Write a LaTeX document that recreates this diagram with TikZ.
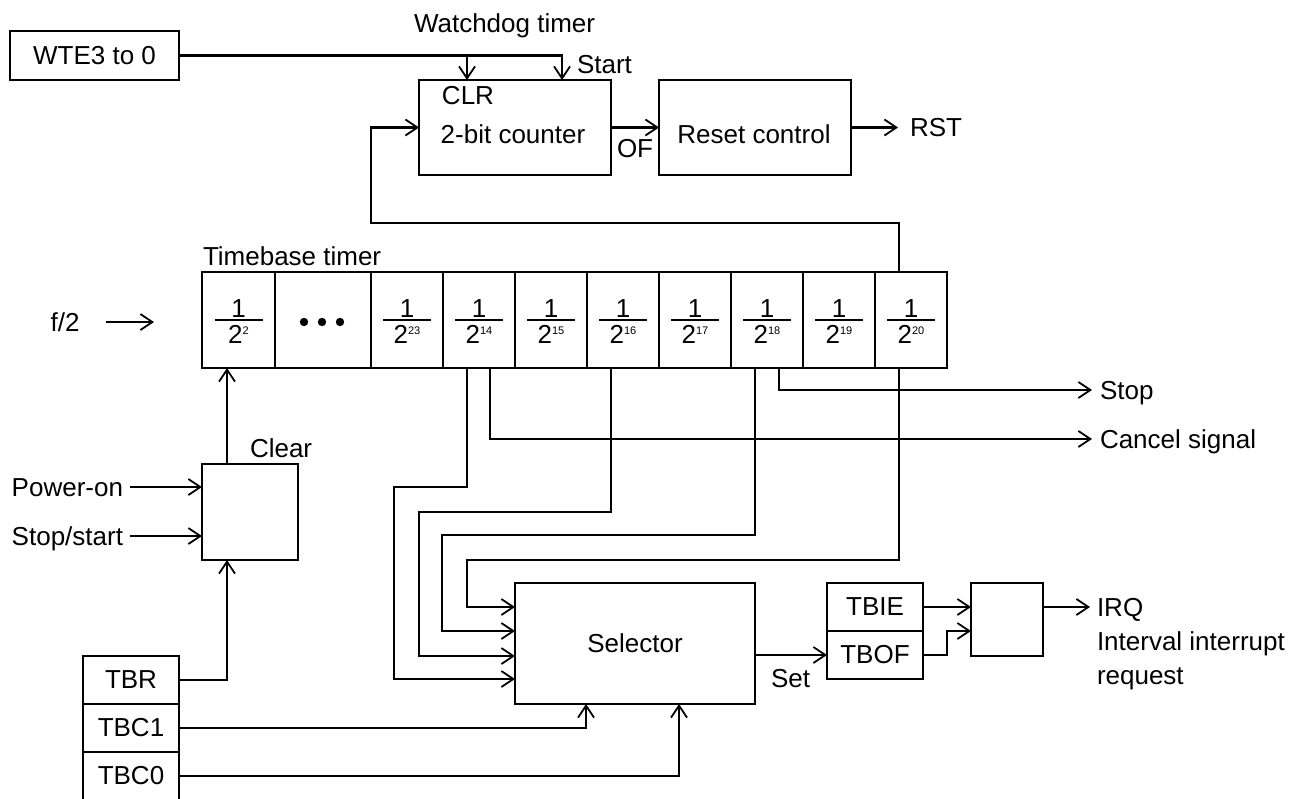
\documentclass[tikz,border=0pt]{standalone}
\usepackage{fontspec}
\setmainfont{Liberation Sans}
\usetikzlibrary{arrows.meta}
\begin{document}
\begin{tikzpicture}[x=1pt,y=-1pt,line width=2.2pt,
  font=\fontsize{26}{31}\selectfont,
  blk/.style={draw,rectangle,inner sep=0pt,outer sep=0pt},
  txt/.style={inner sep=0pt,outer sep=0pt},
  arr/.style={-{Straight Barb[length=12pt,width=16pt,line width=1.8pt]}}]
\useasboundingbox (0,0) rectangle (1314,798);

% top part
\node[blk,minimum width=169pt,minimum height=49pt] (wte) at (94.5,55.5) {WTE3 to 0};
\node[txt,anchor=base west] (wdt) at (414,32) {Watchdog timer};
\node[blk,minimum width=192pt,minimum height=95pt] (ctr) at (515,127.5) {};
\node[blk,minimum width=192pt,minimum height=95pt] (rst) at (755,127.5) {};
\node[txt,anchor=base] (clrl) at (468,104) {CLR};
\node[txt,anchor=base] (cntl) at (513,143) {2-bit counter};
\node[txt,anchor=base] (rstl) at (754,143) {Reset control};
\node[txt,anchor=base west] (ofl) at (617,157) {OF};
\node[txt,anchor=base west] (startl) at (577,73) {Start};
\node[txt,anchor=base west] (rsto) at (910,136) {RST};
\coordinate (startin) at (562,80);
\coordinate (clrin) at (467,80);
\coordinate (rstend) at (898,127.5);
\draw[arr] (wte.east) -| (startin);
\draw[arr] (wte.east -| clrin) -- (clrin);
\draw[arr] (ctr.east) -- (rst.west);
\draw[arr] (rst.east) -- (rstend);

% timebase cells
\node[txt,anchor=base west] (tbt) at (203,265) {Timebase timer};
\node[blk,minimum width=73pt,minimum height=96pt] (c2) at (238.5,320) {};
\node[blk,minimum width=96pt,minimum height=96pt] (cd) at (323,320) {};
\node[blk,minimum width=72pt,minimum height=96pt] (c23) at (407,320) {};
\node[blk,minimum width=72pt,minimum height=96pt] (c14) at (479,320) {};
\node[blk,minimum width=72pt,minimum height=96pt] (c15) at (551,320) {};
\node[blk,minimum width=72pt,minimum height=96pt] (c16) at (623,320) {};
\node[blk,minimum width=72pt,minimum height=96pt] (c17) at (695,320) {};
\node[blk,minimum width=72pt,minimum height=96pt] (c18) at (767,320) {};
\node[blk,minimum width=72pt,minimum height=96pt] (c19) at (839,320) {};
\node[blk,minimum width=72pt,minimum height=96pt] (c20) at (911,320) {};
\foreach \cx/\e in {238.5/2,407/23,479/14,551/15,623/16,695/17,767/18,839/19,911/20}{
  \node[txt,anchor=base] at (\cx,317) {1};
  \draw[line width=2pt] (\cx-24,320) -- (\cx+24,320);
  \node[txt,anchor=base] at (\cx,343) {2\raisebox{9pt}{\fontsize{11}{11}\selectfont\e}};
}
\foreach \dx in {304,322,340}{\fill (\dx,322) circle (4.2pt);}
\node[txt] (f2) at (65,322) {f/2};
\coordinate (f2a) at (106,322);
\coordinate (f2b) at (154,322);
\draw[arr] (f2a) -- (f2b);

% feedback to counter
\coordinate (fbk) at (371,223);
\draw[arr] (c20.north -| 899,0) |- (fbk) |- (ctr.west);

% clear block
\node[blk,minimum width=96pt,minimum height=96pt] (clr) at (250,512) {};
\node[txt,anchor=base west] (clearl) at (250,457) {Clear};
\node[txt,anchor=base east] (pwr) at (123,496) {Power-on};
\node[txt,anchor=base east] (sst) at (123,545) {Stop/start};
\coordinate (pwrout) at (130,487);
\coordinate (sstout) at (130,536);
\draw[arr] (pwrout) -- (clr.west |- pwrout);
\draw[arr] (sstout) -- (clr.west |- sstout);
\draw[arr] (clr.north -| 227,0) -- (c2.south -| 227,0);

% register
\node[blk,minimum width=96pt,minimum height=48pt] (tbr) at (131,680) {TBR};
\node[blk,minimum width=96pt,minimum height=48pt] (tbc1) at (131,728) {TBC1};
\node[blk,minimum width=96pt,minimum height=48pt] (tbc0) at (131,776) {TBC0};
\draw[arr] (tbr.east) -| (clr.south -| 227,0);

% selector
\node[blk,minimum width=240pt,minimum height=121pt] (sel) at (635,643.5) {Selector};
\draw[arr] (tbc1.east) -| (sel.south -| 586,0);
\draw[arr] (tbc0.east) -| (sel.south -| 679,0);
\coordinate (k20) at (467,560);
\coordinate (k18) at (442,535);
\coordinate (k16) at (419,512);
\coordinate (k14) at (394,487);
\draw[arr] (c20.south -| 899,0) |- (k20) |- (sel.west |- 0,607);
\draw[arr] (c18.south -| 755,0) |- (k18) |- (sel.west |- 0,631);
\draw[arr] (c16.south -| 611,0) |- (k16) |- (sel.west |- 0,656);
\draw[arr] (c14.south -| 467,0) |- (k14) |- (sel.west |- 0,679);

% stop / cancel
\node[txt,anchor=base west] (stopl) at (1100,399) {Stop};
\node[txt,anchor=base west] (cancl) at (1100,448) {Cancel signal};
\coordinate (stopend) at (1092,390);
\coordinate (cancend) at (1092,439);
\draw[arr] (c18.south -| 779,0) |- (stopend);
\draw[arr] (c14.south -| 490,0) |- (cancend);

% flags and interrupt
\node[blk,minimum width=96pt,minimum height=48pt] (tbie) at (875,607) {TBIE};
\node[blk,minimum width=96pt,minimum height=48pt] (tbof) at (875,655) {TBOF};
\node[blk,minimum width=72pt,minimum height=73pt] (andg) at (1007,619.5) {};
\node[txt,anchor=base west] (setl) at (771,687) {Set};
\draw[arr] (sel.east |- tbof.west) -- (tbof.west);
\draw[arr] (tbie.east) -- (andg.west |- tbie.east);
\coordinate (kink) at (947,631);
\draw[arr] (tbof.east) -| (kink) -- (andg.west |- kink);
\coordinate (irqend) at (1090,607);
\draw[arr] (andg.east |- irqend) -- (irqend);
\node[txt,anchor=base west] (irq) at (1097,616) {IRQ};
\node[txt,anchor=base west] (iir) at (1097,650) {Interval interrupt};
\node[txt,anchor=base west] (req) at (1097,684) {request};
\end{tikzpicture}
\end{document}
